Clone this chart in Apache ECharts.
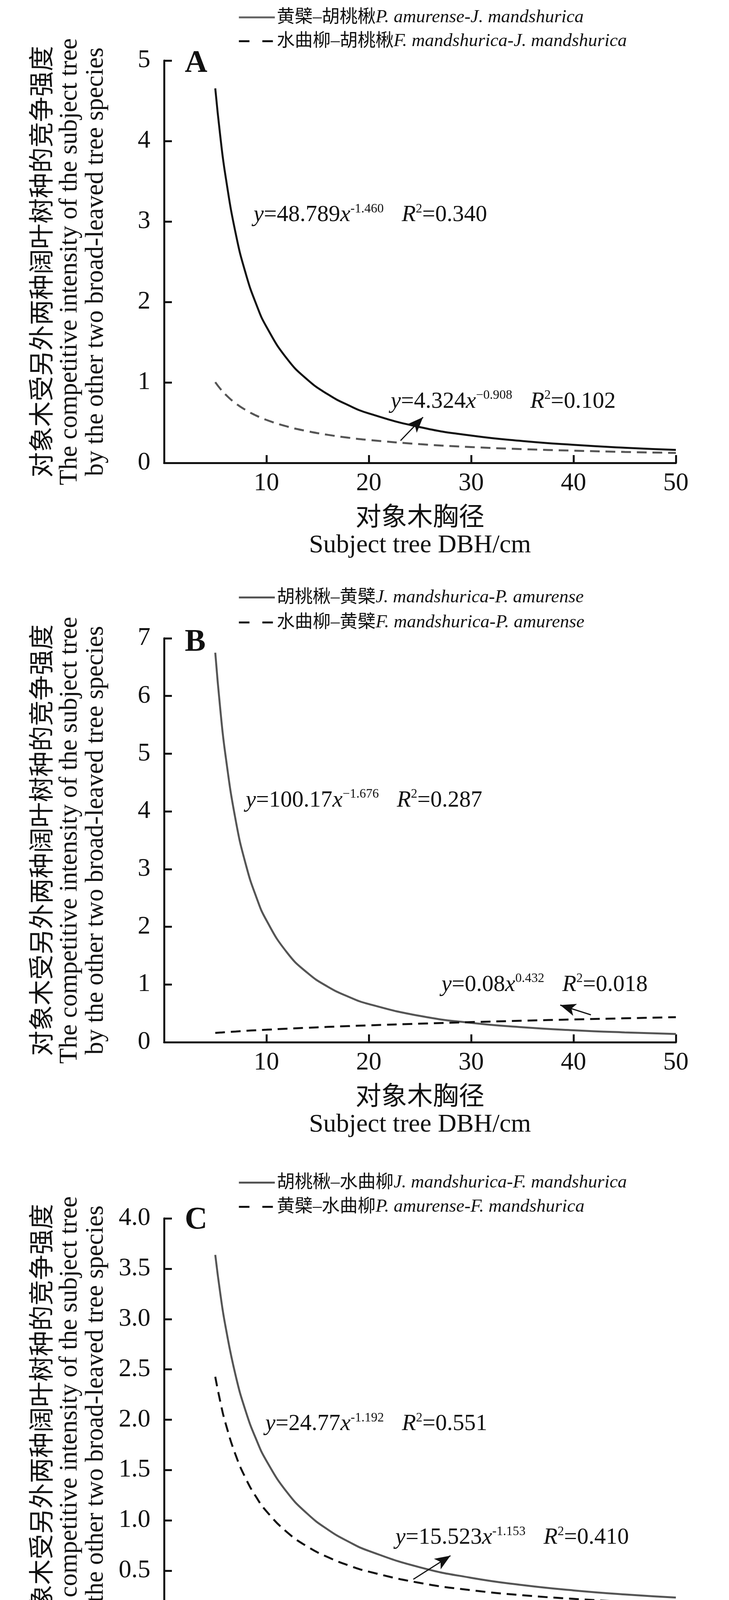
<!DOCTYPE html>
<html>
<head>
<meta charset="utf-8">
<script src="https://cdn.jsdelivr.net/npm/echarts@6/dist/echarts.min.js"></script>
<style>
  html, body { margin: 0; padding: 0; background: #fff; }
  #chart { width: 1866px; height: 4417px; }
</style>
</head>
<body>
<div id="chart"></div>
<script>
// 对象木胸径 (x), shared by all fitted curves
const dbh = [5, 5.5, 6, 7, 8, 9, 10, 12, 14, 16, 18, 20, 25, 30, 35, 40, 45, 50];

// A: 黄檗-胡桃楸 (solid), 水曲柳-胡桃楸 (dashed)
const aSolid  = [4.654, 4.049, 3.566, 2.848, 2.343, 1.973, 1.692, 1.296, 1.035, 0.852, 0.717, 0.615, 0.444, 0.340, 0.272, 0.224, 0.188, 0.161];
const aDashed = [1.003, 0.920, 0.850, 0.739, 0.655, 0.588, 0.534, 0.453, 0.394, 0.349, 0.313, 0.285, 0.233, 0.197, 0.171, 0.152, 0.136, 0.124];
// B: 胡桃楸-黄檗 (solid), 水曲柳-黄檗 (dashed)
const bSolid  = [6.750, 5.753, 4.972, 3.841, 3.070, 2.520, 2.112, 1.556, 1.202, 0.961, 0.789, 0.661, 0.455, 0.335, 0.259, 0.207, 0.170, 0.142];
const bDashed = [0.160, 0.167, 0.174, 0.185, 0.197, 0.207, 0.216, 0.234, 0.250, 0.265, 0.279, 0.292, 0.321, 0.348, 0.372, 0.394, 0.414, 0.434];
// C: 胡桃楸-水曲柳 (solid), 黄檗-水曲柳 (dashed)
const cSolid  = [3.637, 3.247, 2.927, 2.435, 2.077, 1.805, 1.592, 1.281, 1.066, 0.909, 0.790, 0.697, 0.534, 0.430, 0.358, 0.305, 0.265, 0.234];
const cDashed = [2.427, 2.175, 1.967, 1.647, 1.412, 1.232, 1.091, 0.884, 0.740, 0.635, 0.554, 0.491, 0.379, 0.307, 0.257, 0.221, 0.193, 0.171];

const panelLabels = ['A', 'B', 'C'];
const yMax  = [5, 7, 4];
const yStep = [1, 1, 0.5];

const cnNames = [
  ['黄檗–胡桃楸', '水曲柳–胡桃楸'],
  ['胡桃楸–黄檗', '水曲柳–黄檗'],
  ['胡桃楸–水曲柳', '黄檗–水曲柳']
];
const latinNames = [
  ['P. amurense-J. mandshurica', 'F. mandshurica-J. mandshurica'],
  ['J. mandshurica-P. amurense', 'F. mandshurica-P. amurense'],
  ['J. mandshurica-F. mandshurica', 'P. amurense-F. mandshurica']
];

// 拟合方程
const eqCoef = [['48.789', '4.324'], ['100.17', '0.08'], ['24.77', '15.523']];
const eqExp  = [['-1.460', '−0.908'], ['−1.676', '0.432'], ['-1.192', '-1.153']];
const eqR2   = [['0.340', '0.102'], ['0.287', '0.018'], ['0.551', '0.410']];

// annotation anchors in data units
const eqAnchor = [
  [[8.74, 3.08], [22.14, 0.762]],
  [[7.98, 4.19], [27.1, 0.995]],
  [[9.89, 1.956], [22.6, 0.827]]
];
const arrowFrom = [[23.1, 0.277], [41.7, 0.474], [24.35, 0.415]];
const arrowTo   = [[25.3, 0.568], [38.7, 0.643], [27.98, 0.65]];

// layout
const gridTop    = [155, 1634, 3119];
const gridHeight = [1030, 1034, 1031];
const legendTop  = [21, 1506, 3004];
const legendGap  = [14, 17, 15];
const labelTop   = [123, 1605, 3084];

const solidColor  = ['#111', '#555', '#555'];
const dashedColor = ['#555', '#111', '#111'];
const legendSolidColor  = ['#666', '#555', '#555'];
const legendDashedColor = ['#111', '#111', '#111'];

const SERIF = "'Liberation Serif', 'Times New Roman', serif";
const MIXED = "'Liberation Serif', 'Noto Sans CJK SC', serif";
const INK = '#111';

const values = [[aSolid, aDashed], [bSolid, bDashed], [cSolid, cDashed]];

const nameParts = {};
cnNames.forEach((pair, p) => pair.forEach((cn, k) => {
  nameParts[cn + latinNames[p][k]] = [cn, latinNames[p][k]];
}));

const eqRich = {
  i: { fontFamily: SERIF, fontStyle: 'italic', fontSize: 59, lineHeight: 64, color: INK },
  n: { fontFamily: SERIF, fontSize: 59, lineHeight: 64, color: INK },
  s: { fontFamily: SERIF, fontSize: 33, lineHeight: 36, verticalAlign: 'top', color: INK },
  g: { width: 46 }
};

const eqText = (p, k) =>
  `{i|y}{n|=${eqCoef[p][k]}}{i|x}{s|${eqExp[p][k]}}{g| }{i|R}{s|2}{n|=${eqR2[p][k]}}`;

const grids = [], xAxes = [], yAxes = [], titles = [], legends = [], series = [];

panelLabels.forEach((lab, p) => {
  grids.push({ left: 420, width: 1310, top: gridTop[p], height: gridHeight[p] });

  xAxes.push({
    type: 'value', gridIndex: p, min: 0, max: 50, interval: 10,
    axisLine: { show: true, onZero: false, lineStyle: { color: INK, width: 5 } },
    axisTick: { show: true, inside: true, length: 20, lineStyle: { color: INK, width: 5 } },
    splitLine: { show: false },
    axisLabel: {
      margin: 20, fontFamily: SERIF, fontSize: 65, color: INK,
      formatter: v => (v === 0 ? '' : String(v))
    },
    name: '对象木胸径\nSubject tree DBH/cm',
    nameLocation: 'middle', nameGap: 108,
    nameTextStyle: { fontFamily: MIXED, fontSize: 66, lineHeight: 69, color: INK }
  });

  yAxes.push({
    type: 'value', gridIndex: p, min: 0, max: yMax[p], interval: yStep[p],
    axisLine: { show: true, onZero: false, lineStyle: { color: INK, width: 5 } },
    axisTick: { show: true, inside: true, length: 20, lineStyle: { color: INK, width: 5 } },
    splitLine: { show: false },
    axisLabel: {
      margin: 35, fontFamily: SERIF, fontSize: 65, color: INK,
      formatter: v => (v === 0 ? '0' : (yStep[p] < 1 ? v.toFixed(1) : String(v)))
    },
    name: '对象木受另外两种阔叶树种的竞争强度\nThe competitive intensity of the subject tree\nby the other two broad-leaved tree species',
    nameLocation: 'middle', nameRotate: 90, nameGap: 141,
    nameTextStyle: { fontFamily: MIXED, fontSize: 65, lineHeight: 67, color: INK }
  });

  titles.push({
    text: lab, left: 473, top: labelTop[p], padding: 0,
    textStyle: { fontFamily: SERIF, fontWeight: 'bold', fontSize: 80, lineHeight: 80, color: INK }
  });

  const names = cnNames[p].map((cn, k) => cn + latinNames[p][k]);

  legends.push({
    left: 609, top: legendTop[p], orient: 'vertical', itemGap: legendGap[p],
    itemWidth: 92, itemHeight: 12, padding: 0, selectedMode: false,
    data: [
      { name: names[0], lineStyle: { color: legendSolidColor[p], width: 5, type: 'solid' }, itemStyle: { opacity: 0 } },
      { name: names[1], lineStyle: { color: legendDashedColor[p], width: 5, type: [27, 33] }, itemStyle: { opacity: 0 } }
    ],
    formatter: name => `{cn|${nameParts[name][0]}}{la|${nameParts[name][1]}}`,
    textStyle: {
      rich: {
        cn: { fontFamily: MIXED, fontSize: 46, lineHeight: 50, color: INK },
        la: { fontFamily: SERIF, fontStyle: 'italic', fontSize: 47, lineHeight: 50, color: INK }
      }
    }
  });

  [0, 1].forEach(k => {
    const color = k === 0 ? solidColor[p] : dashedColor[p];
    const s = {
      name: names[k], type: 'line', xAxisIndex: p, yAxisIndex: p,
      data: dbh.map((x, i) => [x, values[p][k][i]]),
      smooth: 0.5, symbol: 'none', showSymbol: false,
      lineStyle: { color, width: 5, type: k === 0 ? 'solid' : [25, 15] },
      itemStyle: { color },
      markPoint: {
        silent: true, symbol: 'circle', symbolSize: 0,
        itemStyle: { color: 'rgba(0,0,0,0)' },
        label: { show: true, position: 'right', distance: 0, formatter: eqText(p, k), rich: eqRich },
        data: [{ coord: eqAnchor[p][k] }]
      }
    };
    if (k === 0) {
      s.markLine = {
        silent: true, symbol: ['none', 'arrow'], symbolSize: [0, 36],
        lineStyle: { type: 'solid', color: INK, width: 3 },
        label: { show: false },
        data: [[{ coord: arrowFrom[p] }, { coord: arrowTo[p], symbolSize: [24, 40] }]]
      };
    }
    series.push(s);
  });
});

const chart = echarts.init(document.getElementById('chart'));
chart.setOption({
  animation: false,
  backgroundColor: '#fff',
  title: titles,
  legend: legends,
  grid: grids,
  xAxis: xAxes,
  yAxis: yAxes,
  series
});
</script>
</body>
</html>
